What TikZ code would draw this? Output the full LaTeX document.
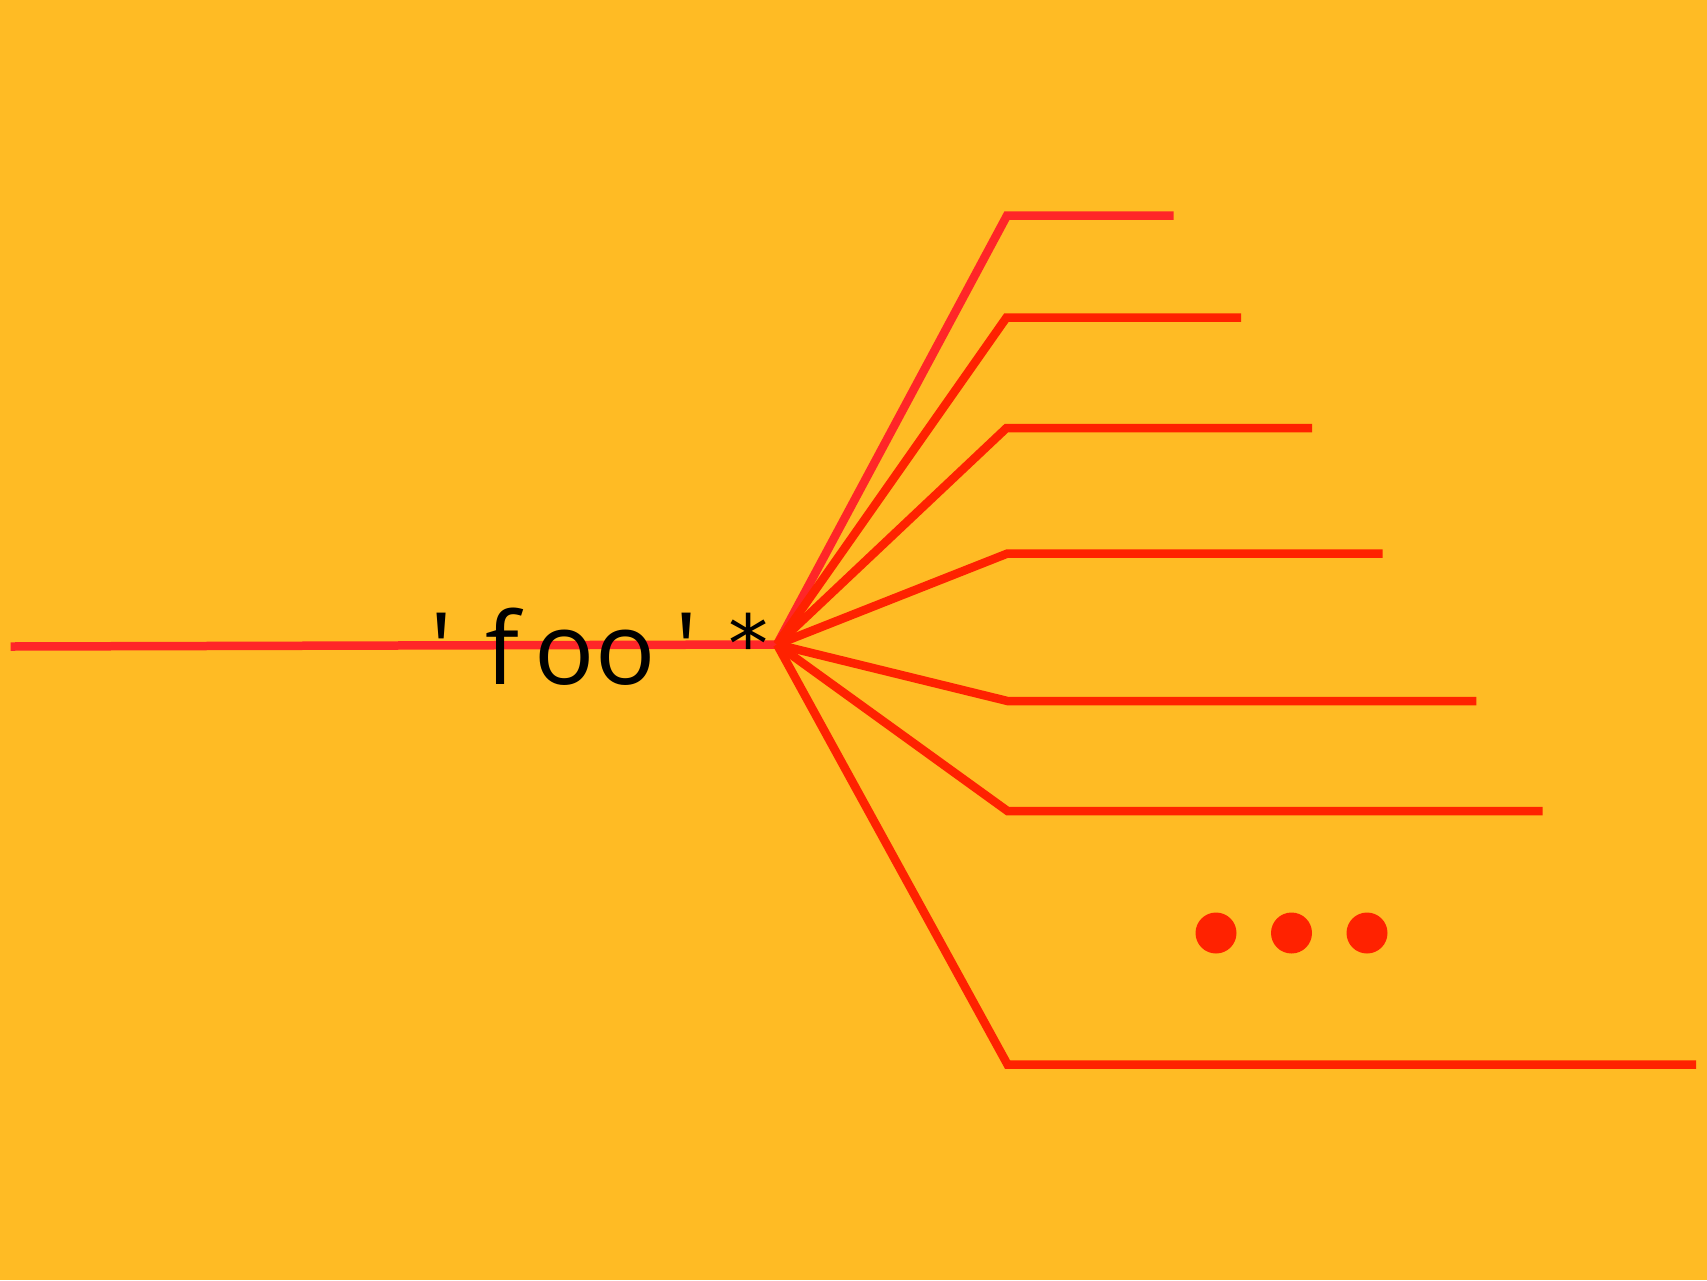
\documentclass[tikz,border=0pt]{standalone}
\usepackage{fontspec}
\setmainfont{Open Sans}
\newfontfamily\starfont{DejaVu Sans Mono}
\usepackage{tikz}
\usetikzlibrary{positioning}
\definecolor{bgclr}{RGB}{255,187,36}
\definecolor{wireclr}{RGB}{255,38,40}
\definecolor{branchclr}{RGB}{255,34,0}
\tikzset{
    wire/.style={draw=wireclr,line width=8.5pt},
    branch/.style={draw=branchclr,line width=8.5pt},
    dotmark/.style={circle,fill=branchclr,minimum size=41pt,inner sep=0pt},
    glyph/.style={font=\fontsize{100}{100}\selectfont,inner sep=0pt,anchor=base},
}
\newcommand{\gl}[1]{\makebox[61.3pt]{#1}}
\newcommand{\repstar}{\raisebox{12pt}{\starfont\fontsize{80}{80}\selectfont *}}

\begin{document}
\begin{tikzpicture}[x=1pt,y=-1pt]
\fill[bgclr] (0,0) rectangle (1707,1280);
\useasboundingbox (0,0) rectangle (1707,1280);

\coordinate (src) at (10.7,646.5);
\coordinate (hub) at (777,644.5);

\coordinate (c1) at (1007,215.5);  \coordinate (e1) at (1173.6,215.5);
\coordinate (c2) at (1006.5,317.5); \coordinate (e2) at (1241,317.5);
\coordinate (c3) at (1006.5,428);  \coordinate (e3) at (1312,428);
\coordinate (c4) at (1007.5,553.5); \coordinate (e4) at (1382.6,553.5);
\coordinate (c5) at (1007.5,701);  \coordinate (e5) at (1476.3,701);
\coordinate (c6) at (1007.5,811);  \coordinate (e6) at (1542.7,811);
\coordinate (c7) at (1007.5,1064.5); \coordinate (e7) at (1696.2,1064.5);

\draw[wire] (src) -- (hub);
\draw[wire] (hub) -- (c1) -- (e1);
\draw[branch] (hub) -- (c2) -- (e2);
\draw[branch] (hub) -- (c3) -- (e3);
\draw[branch] (hub) -- (c4) -- (e4);
\draw[branch] (hub) -- (c5) -- (e5);
\draw[branch] (hub) -- (c6) -- (e6);
\draw[branch] (hub) -- (c7) -- (e7);

\node[dotmark] (d1) at (1216,933) {};
\node[dotmark] (d2) at (1291.5,933) {};
\node[dotmark] (d3) at (1367,933) {};

\node[glyph] (lbl) at (595,684) {\gl{\textquotesingle}\gl{f}\gl{o}\gl{o}\gl{\textquotesingle}\gl{\repstar}};
\end{tikzpicture}
\end{document}
